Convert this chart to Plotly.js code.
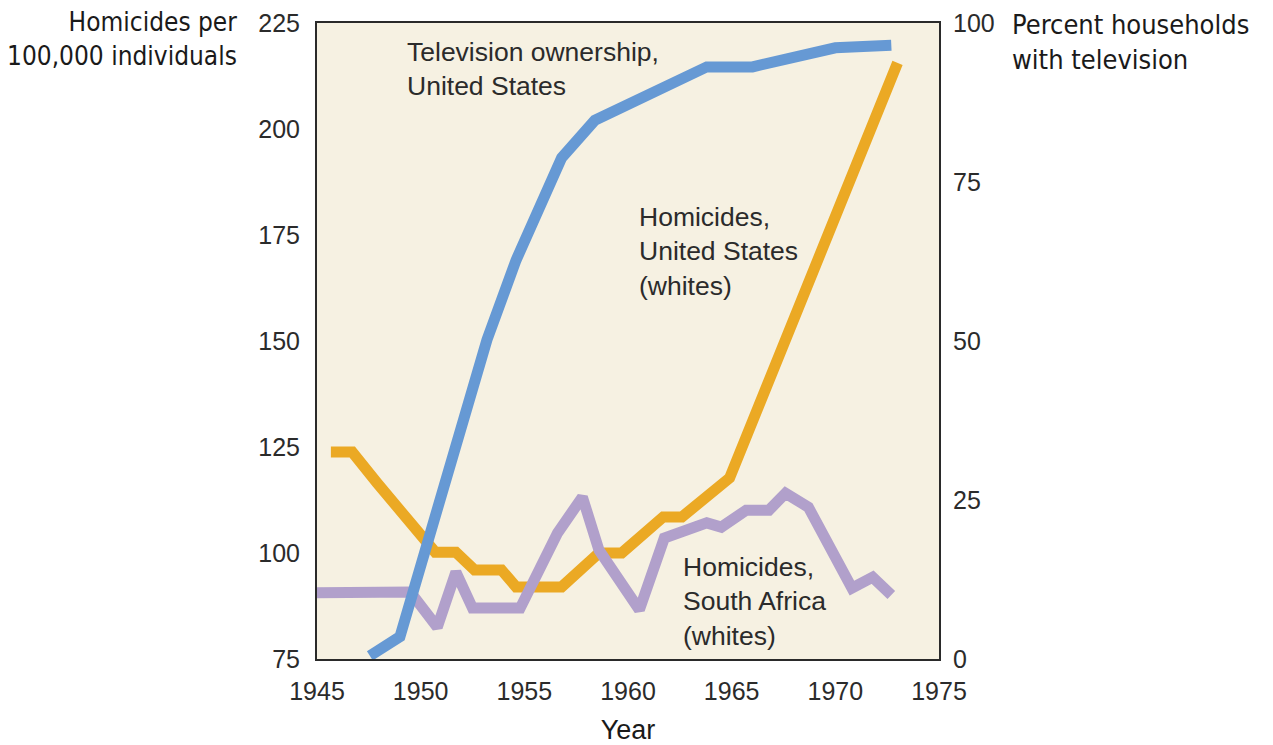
<!DOCTYPE html>
<html>
<head>
<meta charset="utf-8">
<script src="https://cdn.plot.ly/plotly-3.0.1.min.js"></script>
<style>
  html, body { margin: 0; padding: 0; background: #ffffff; }
  #chart { width: 1273px; height: 745px; }
</style>
</head>
<body>
<div id="chart"></div>
<script>
// ---- Data ----
const tvYears = [1947.55, 1949.0, 1953.2, 1954.6, 1956.8, 1958.4, 1963.8, 1966.0, 1970.0, 1972.7];
const tvPercent = [0.5, 3.5, 50.2, 62.7, 78.8, 84.7, 93.1, 93.1, 96.1, 96.5];

const usYears = [1945.67, 1946.7, 1947.9, 1948.75, 1949.8, 1950.7, 1951.7, 1952.6, 1953.9, 1954.6, 1956.8, 1958.6, 1959.7, 1961.7, 1962.6, 1964.9, 1973.0];
const usHomicides = [123.8, 123.8, 116.5, 111.3, 104.7, 100.2, 100.2, 96.0, 96.0, 92.0, 92.0, 100.0, 100.0, 108.5, 108.5, 117.7, 215.6];

const saYears = [1945.0, 1949.5, 1950.8, 1951.7, 1952.5, 1954.8, 1956.6, 1957.8, 1958.6, 1960.55, 1961.75, 1963.0, 1963.8, 1964.5, 1965.7, 1966.8, 1967.6, 1968.7, 1969.85, 1970.8, 1971.8, 1972.7];
const saHomicides = [90.6, 90.8, 82.5, 95.5, 87.0, 87.0, 104.7, 113.2, 100.7, 86.6, 103.5, 106.1, 107.1, 106.1, 110.1, 110.1, 114.1, 110.8, 100.7, 91.7, 94.3, 90.1];

const xTicks = [1945, 1950, 1955, 1960, 1965, 1970, 1975];
const leftTicks = [75, 100, 125, 150, 175, 200, 225];
const rightTicks = [0, 25, 50, 75, 100];

// ---- Layout helpers (pixel -> paper) ----
const W = 1273, H = 745;
const M = { l: 317, r: W - 939, t: 23, b: H - 659 };
const PW = W - M.l - M.r, PH = H - M.t - M.b;
const px = x => (x - M.l) / PW;
const py = y => (H - M.b - y) / PH;

const tickFont = { family: 'Liberation Sans, Arial, sans-serif', size: 25, color: '#2b2b2b' };
const noteFont = { family: 'Liberation Sans, Arial, sans-serif', size: 26.5, color: '#2b2b2b' };
const leftTitleFont = { family: 'DejaVu Sans Condensed, Liberation Sans Narrow, sans-serif', size: 26, color: '#1a1a1a' };
const rightTitleFont = { family: 'DejaVu Sans Condensed, Liberation Sans Narrow, sans-serif', size: 27, color: '#1a1a1a' };

const traces = [
  { x: usYears, y: usHomicides, type: 'scatter', mode: 'lines', yaxis: 'y',
    line: { color: '#EBA924', width: 11 }, hoverinfo: 'skip', name: 'Homicides, United States (whites)' },
  { x: saYears, y: saHomicides, type: 'scatter', mode: 'lines', yaxis: 'y',
    line: { color: '#B1A0CB', width: 11 }, hoverinfo: 'skip', name: 'Homicides, South Africa (whites)' },
  { x: tvYears, y: tvPercent, type: 'scatter', mode: 'lines', yaxis: 'y2',
    line: { color: '#6699D4', width: 11 }, hoverinfo: 'skip', name: 'Television ownership, United States' }
];

const layout = {
  width: W, height: H,
  margin: M,
  paper_bgcolor: '#ffffff',
  plot_bgcolor: '#F6F1E2',
  showlegend: false,
  xaxis: {
    range: [1945, 1975], tickvals: xTicks, ticktext: xTicks.map(String),
    showgrid: false, zeroline: false,
    showline: true, mirror: true, linecolor: '#2a2a2a', linewidth: 2,
    ticks: 'outside', ticklen: 9, tickcolor: 'rgba(0,0,0,0)',
    tickfont: tickFont,
    title: { text: 'Year', font: { family: 'Liberation Sans, Arial, sans-serif', size: 27, color: '#1a1a1a' }, standoff: 22 }
  },
  yaxis: {
    range: [75, 225], tickvals: leftTicks, ticktext: leftTicks.map(String),
    showgrid: false, zeroline: false,
    showline: true, mirror: true, linecolor: '#2a2a2a', linewidth: 2,
    ticks: 'outside', ticklen: 10, tickcolor: 'rgba(0,0,0,0)',
    tickfont: tickFont
  },
  yaxis2: {
    overlaying: 'y', side: 'right',
    range: [0, 100], tickvals: rightTicks, ticktext: rightTicks.map(String),
    showgrid: false, zeroline: false, showline: false,
    ticks: 'outside', ticklen: 8, tickcolor: 'rgba(0,0,0,0)',
    tickfont: tickFont
  },
  annotations: [
    { xref: 'paper', yref: 'paper', x: px(239), y: py(5), xanchor: 'right', yanchor: 'top', align: 'right',
      showarrow: false, text: 'Homicides per<br>100,000 individuals', font: leftTitleFont },
    { xref: 'paper', yref: 'paper', x: px(1010), y: py(7), xanchor: 'left', yanchor: 'top', align: 'left',
      showarrow: false, text: 'Percent households<br>with television', font: rightTitleFont },
    { xref: 'paper', yref: 'paper', x: px(405), y: py(35), xanchor: 'left', yanchor: 'top', align: 'left',
      showarrow: false, text: 'Television ownership,<br>United States', font: noteFont },
    { xref: 'paper', yref: 'paper', x: px(637), y: py(200), xanchor: 'left', yanchor: 'top', align: 'left',
      showarrow: false, text: 'Homicides,<br>United States<br>(whites)', font: noteFont },
    { xref: 'paper', yref: 'paper', x: px(681), y: py(550), xanchor: 'left', yanchor: 'top', align: 'left',
      showarrow: false, text: 'Homicides,<br>South Africa<br>(whites)', font: noteFont }
  ]
};

Plotly.newPlot('chart', traces, layout, { displayModeBar: false, staticPlot: true });
</script>
</body>
</html>
